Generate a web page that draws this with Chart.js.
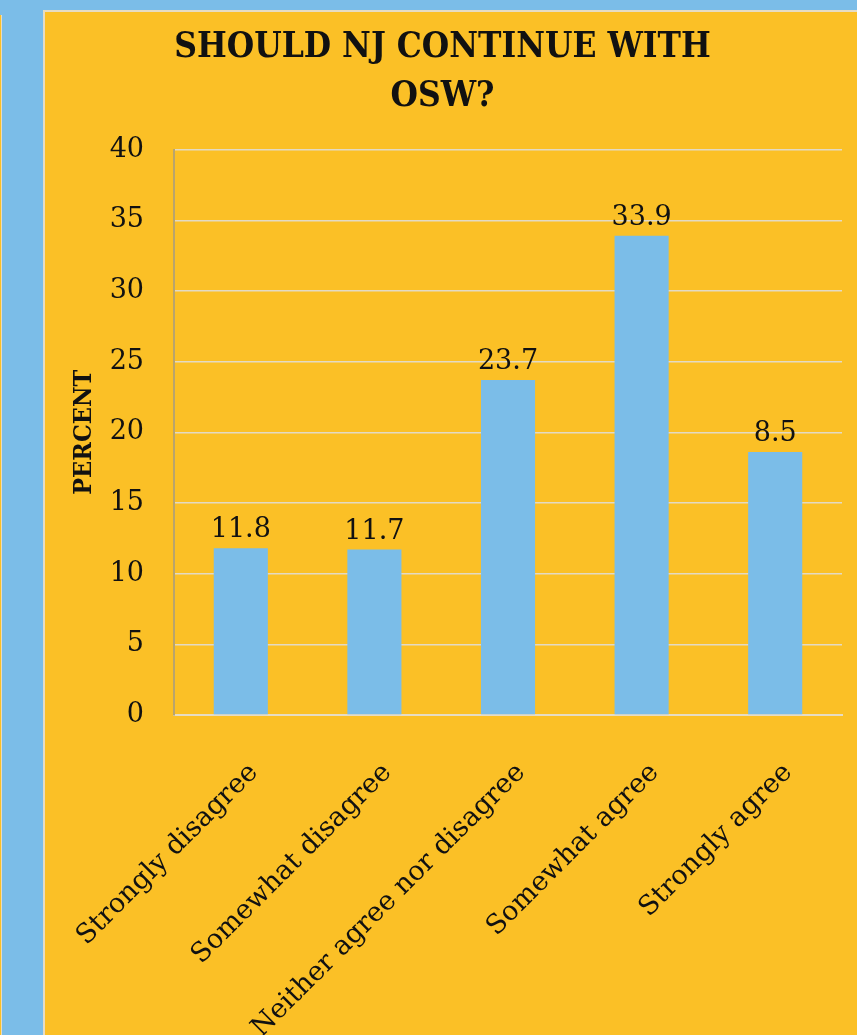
<!DOCTYPE html>
<html>
<head>
<meta charset="utf-8">
<script src="https://cdn.jsdelivr.net/npm/chart.js@4"></script>
<style>
    html, body { margin: 0; padding: 0; }
    body { width: 857px; height: 1035px; background: #7bbde8; position: relative; overflow: hidden; }
    .sliver { position: absolute; left: 0; top: 15px; width: 1px; height: 1020px; background: #fbc026; border-right: 1px solid #e6dcc4; }
    .panel { position: absolute; left: 43px; top: 10px; width: 814px; height: 1025px; background: #fbc026;
             border-left: 2px solid #e6dcc4; border-top: 2px solid #e6dcc4; box-sizing: border-box; }
    #chartBox { position: absolute; left: 43px; top: 10px; width: 814px; height: 1025px; }
</style>
</head>
<body>
<div class="sliver"></div>
<div class="panel"></div>
<div id="chartBox"><canvas id="oswChart"></canvas></div>
<script>
// Survey data
const categories = ['Strongly disagree', 'Somewhat disagree', 'Neither agree nor disagree', 'Somewhat agree', 'Strongly agree'];
const percentValues = [11.8, 11.7, 23.7, 33.9, 18.6];
const valueLabels = ['11.8', '11.7', '23.7', '33.9', '8.5'];
const yTicks = [0, 5, 10, 15, 20, 25, 30, 35, 40];

const serif = "'DejaVu Serif', serif";
const condensed = "'DejaVu Serif Condensed', 'DejaVu Serif', serif";

// Draw the printed numbers above each bar
const barLabels = {
    id: 'barLabels',
    afterDatasetsDraw(chart) {
        const ctx = chart.ctx;
        const meta = chart.getDatasetMeta(0);
        ctx.save();
        ctx.font = "27px " + serif;
        ctx.fillStyle = '#111';
        ctx.textAlign = 'center';
        ctx.textBaseline = 'alphabetic';
        meta.data.forEach((bar, i) => {
            ctx.fillText(valueLabels[i], bar.x, bar.y - 11);
        });
        ctx.restore();
    }
};

new Chart(document.getElementById('oswChart'), {
    type: 'bar',
    data: {
        labels: categories,
        datasets: [{
            data: percentValues,
            backgroundColor: '#7bbde8',
            borderWidth: 0,
            categoryPercentage: 1,
            barPercentage: 0.405
        }]
    },
    options: {
        responsive: true,
        maintainAspectRatio: false,
        animation: false,
        layout: { padding: { right: 15 } },
        plugins: {
            legend: { display: false },
            tooltip: { enabled: false },
            title: {
                display: true,
                text: ['SHOULD NJ CONTINUE WITH', 'OSW?'],
                color: '#111',
                font: { family: condensed, size: 35, weight: 'bold', lineHeight: 1.38 },
                padding: { top: 14, bottom: 29 }
            }
        },
        scales: {
            x: {
                grid: { display: false },
                border: { color: '#e6dcc4', width: 2 },
                ticks: {
                    color: '#111',
                    font: { family: serif, size: 27 },
                    minRotation: 45,
                    maxRotation: 45,
                    padding: 34,
                    labelOffset: 13,
                    autoSkip: false
                },
                afterFit(scale) {
                    scale.height = 320;
                    scale.paddingLeft = 0;
                    scale.paddingRight = 0;
                }
            },
            y: {
                min: 0,
                max: 40,
                afterBuildTicks(scale) { scale.ticks = yTicks.map(v => ({ value: v })); },
                grid: { color: '#e3dac4', lineWidth: 1.5, drawTicks: false },
                border: { color: '#b9a46c', width: 2 },
                ticks: {
                    color: '#111',
                    font: { family: serif, size: 27 },
                    padding: 30
                },
                title: {
                    display: true,
                    text: 'PERCENT',
                    color: '#111',
                    font: { family: condensed, size: 25, weight: 'bold' },
                    padding: { top: 26, bottom: 0 }
                },
                afterFit(scale) { scale.width = 131; }
            }
        }
    },
    plugins: [barLabels]
});
</script>
</body>
</html>
